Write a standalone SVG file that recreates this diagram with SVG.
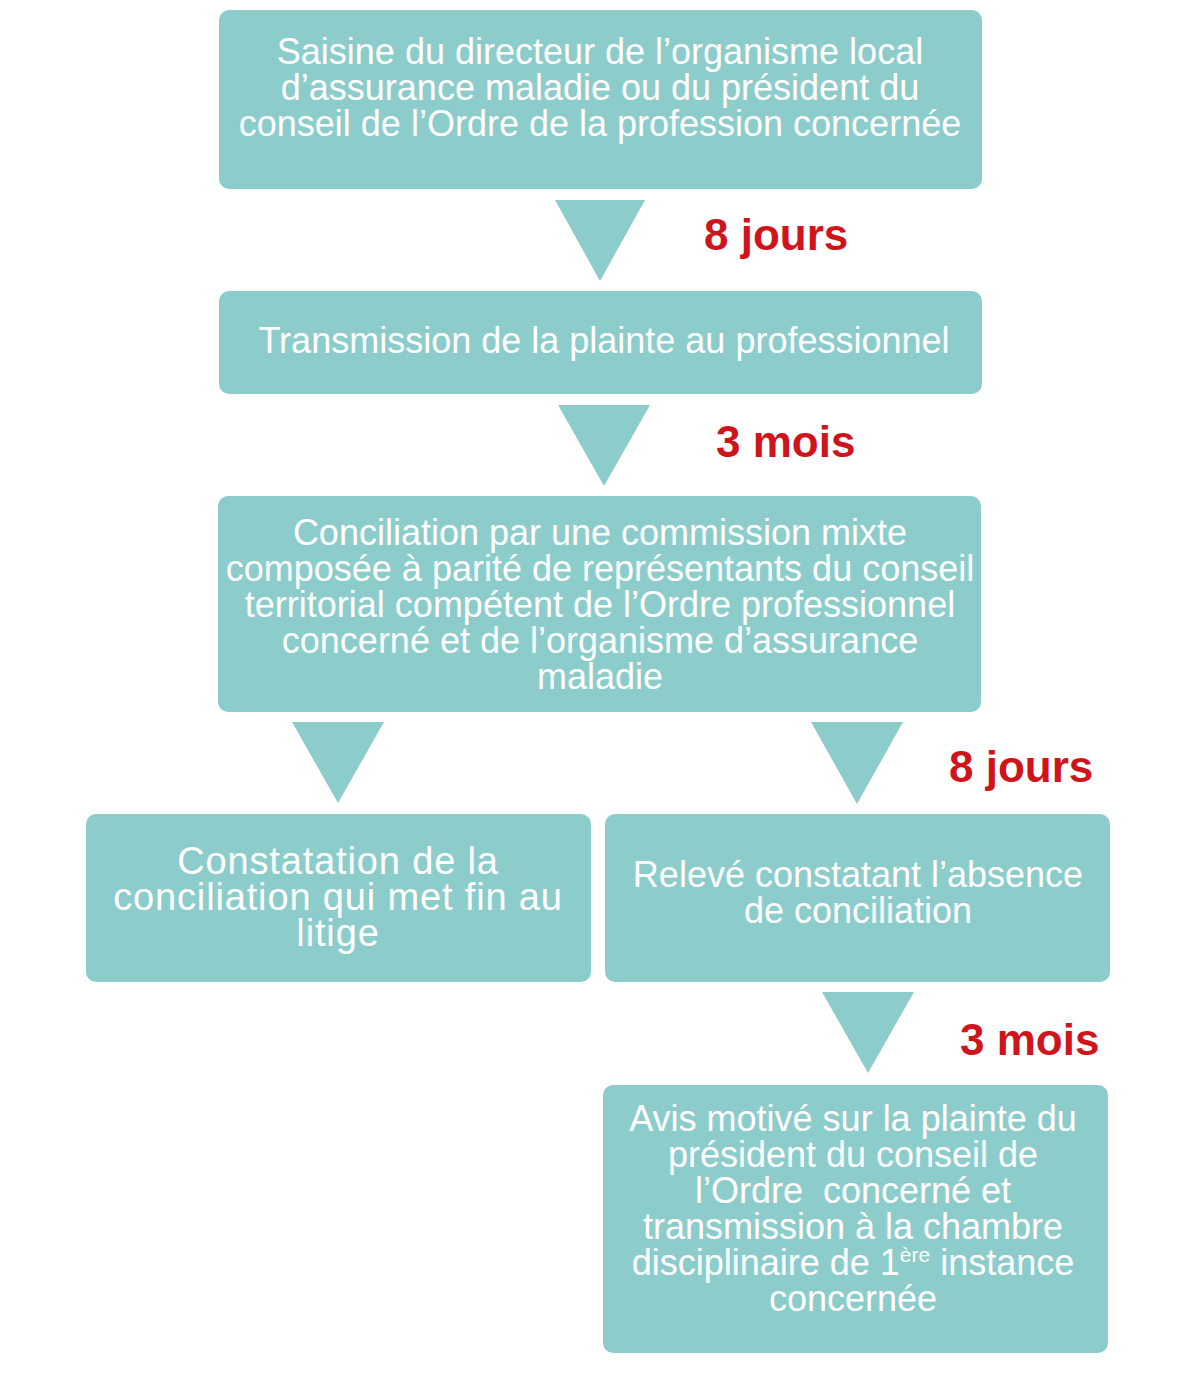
<svg xmlns="http://www.w3.org/2000/svg" width="1200" height="1379" viewBox="0 0 1200 1379">
<style>
.box{fill:#8ccdcc}
.arr{fill:#8ccdcc}
.t{font-family:"Liberation Sans",Arial,sans-serif;font-size:36px;fill:#ffffff;text-anchor:middle}
.b{font-size:38px;letter-spacing:0.85px}
.d{font-family:"Liberation Sans",Arial,sans-serif;font-size:44px;font-weight:bold;fill:#d0141c}
</style>
<rect width="1200" height="1379" fill="#ffffff"/>
<g id="connectors">
<polygon class="arr" points="555,200 645,200 600,281"/>
<polygon class="arr" points="558,405 650,405 604,486"/>
<polygon class="arr" points="292,722 384,722 338,803"/>
<polygon class="arr" points="811,722 903,722 857,804"/>
<polygon class="arr" points="822,992 914,992 868,1073"/>
<text class="d" x="704" y="250">8 jours</text>
<text class="d" x="716" y="457">3 mois</text>
<text class="d" x="949" y="782">8 jours</text>
<text class="d" x="960" y="1055">3 mois</text>
</g>
<g id="n1">
<rect class="box" x="219" y="10" width="763" height="179" rx="10"/>
<text class="t" x="600" y="64">Saisine du directeur de l’organisme local</text>
<text class="t" x="600" y="100">d’assurance maladie ou du président du</text>
<text class="t" x="600" y="136">conseil de l’Ordre de la profession concernée</text>
</g>
<g id="n2">
<rect class="box" x="219" y="291" width="763" height="103" rx="10"/>
<text class="t" x="604" y="353">Transmission de la plainte au professionnel</text>
</g>
<g id="n3">
<rect class="box" x="218" y="496" width="763" height="216" rx="10"/>
<text class="t" x="600" y="545">Conciliation par une commission mixte</text>
<text class="t" x="600" y="581">composée à parité de représentants du conseil</text>
<text class="t" x="600" y="617">territorial compétent de l’Ordre professionnel</text>
<text class="t" x="600" y="653">concerné et de l’organisme d’assurance</text>
<text class="t" x="600" y="689">maladie</text>
</g>
<g id="n4">
<rect class="box" x="86" y="814" width="505" height="168" rx="10"/>
<text class="t b" x="338" y="874">Constatation de la</text>
<text class="t b" x="338" y="910">conciliation qui met fin au</text>
<text class="t b" x="338" y="946">litige</text>
</g>
<g id="n5">
<rect class="box" x="605" y="814" width="505" height="168" rx="10"/>
<text class="t" x="858" y="887">Relevé constatant l’absence</text>
<text class="t" x="858" y="923">de conciliation</text>
</g>
<g id="n6">
<rect class="box" x="603" y="1085" width="505" height="268" rx="10"/>
<text class="t" x="853" y="1131">Avis motivé sur la plainte du</text>
<text class="t" x="853" y="1167">président du conseil de</text>
<text class="t" x="853" y="1203" xml:space="preserve">l’Ordre  concerné et</text>
<text class="t" x="853" y="1239">transmission à la chambre</text>
<text class="t" x="853" y="1275">disciplinaire de 1<tspan dy="-13" style="font-size:21px">ère</tspan><tspan dy="13"> instance</tspan></text>
<text class="t" x="853" y="1311">concernée</text>
</g>
</svg>
